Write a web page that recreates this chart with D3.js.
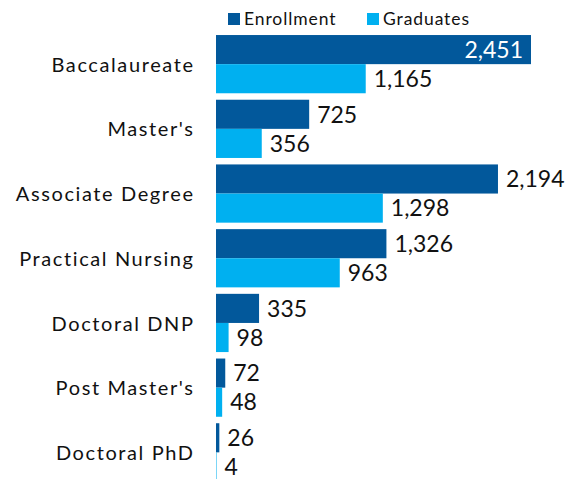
<!DOCTYPE html>
<html>
<head>
<meta charset="utf-8">
<script src="https://cdn.jsdelivr.net/npm/d3@7"></script>
<style>
  body { margin: 0; background: #fff; }
  svg { display: block; font-family: Futura, 'Century Gothic', Lato, sans-serif; }
</style>
</head>
<body>
<div id="chart"></div>
<script>
// Nursing programs: enrollment vs graduates
const categories = ['Baccalaureate', "Master's", 'Associate Degree', 'Practical Nursing', 'Doctoral DNP', "Post Master's", 'Doctoral PhD'];
const enrollment = [2451, 725, 2194, 1326, 335, 72, 26];
const graduates = [1165, 356, 1298, 963, 98, 48, 4];
const seriesNames = ['Enrollment', 'Graduates'];
const seriesColors = ['#02589b', '#00b0f0'];

const width = 569, height = 479;

const svg = d3.select('#chart').append('svg')
  .attr('width', width)
  .attr('height', height);

const x = d3.scaleLinear()
  .domain([0, d3.max(enrollment)])
  .range([216, 531]);

const y = d3.scaleBand()
  .domain(categories)
  .range([31.8, 484.7])
  .paddingInner(0.1)
  .paddingOuter(0.05);

const sub = d3.scaleBand()
  .domain(seriesNames)
  .range([0, y.bandwidth()]);

const rows = categories.map((c, i) => ({ cat: c, values: [enrollment[i], graduates[i]] }));
const maxVal = d3.max(enrollment);

const groups = svg.append('g').selectAll('g')
  .data(rows)
  .join('g')
  .attr('transform', d => `translate(0, ${y(d.cat)})`);

groups.selectAll('rect')
  .data(d => d.values.map((v, j) => ({ v, s: seriesNames[j], j })))
  .join('rect')
  .attr('x', x(0))
  .attr('y', d => sub(d.s))
  .attr('width', d => x(d.v) - x(0))
  .attr('height', sub.bandwidth())
  .attr('fill', d => seriesColors[d.j]);

const fmt = d3.format(',');

// value labels, the longest one sits inside its bar
groups.selectAll('text.val')
  .data(d => d.values.map((v, j) => ({ v, s: seriesNames[j], j })))
  .join('text')
  .attr('class', 'val')
  .attr('x', d => d.v === maxVal ? x(d.v) - 8 : x(d.v) + 8)
  .attr('y', d => sub(d.s) + sub.bandwidth() / 2)
  .attr('dy', '0.36em')
  .attr('text-anchor', d => d.v === maxVal ? 'end' : 'start')
  .attr('fill', d => d.v === maxVal ? '#fff' : '#111')
  .attr('font-size', '23px')
  .text(d => fmt(d.v));

// category labels
svg.append('g').selectAll('text')
  .data(categories)
  .join('text')
  .attr('x', 194.6)
  .attr('y', d => y(d) + y.bandwidth() / 2)
  .attr('dy', '0.38em')
  .attr('text-anchor', 'end')
  .attr('fill', '#111')
  .attr('font-size', '20px')
  .attr('letter-spacing', '1.6px')
  .text(d => d);

// legend
const legendX = [228, 367];
const legend = svg.append('g').selectAll('g')
  .data(seriesNames)
  .join('g')
  .attr('transform', (d, i) => `translate(${legendX[i]}, 13)`);

legend.append('rect')
  .attr('width', 12)
  .attr('height', 12)
  .attr('fill', (d, i) => seriesColors[i]);

legend.append('text')
  .attr('x', 16)
  .attr('y', 6)
  .attr('dy', '0.36em')
  .attr('font-size', '17.5px')
  .attr('letter-spacing', '0.9px')
  .attr('fill', '#111')
  .text(d => d);
</script>
</body>
</html>
